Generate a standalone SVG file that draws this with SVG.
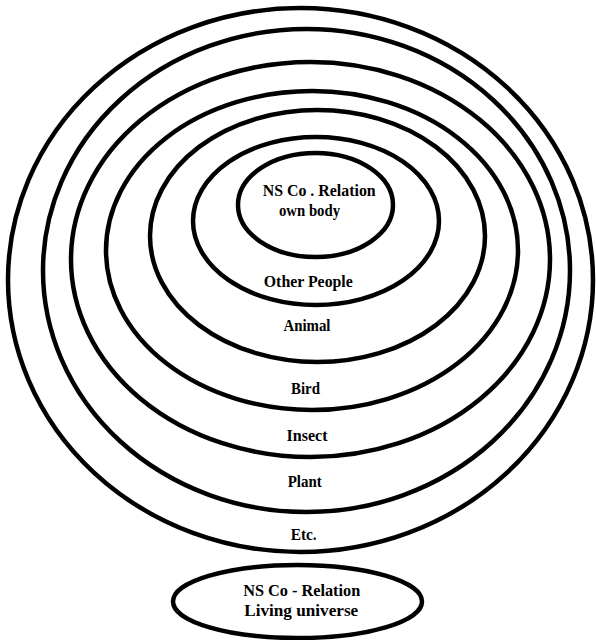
<svg xmlns="http://www.w3.org/2000/svg" width="596" height="640" viewBox="0 0 596 640">
<style>
.ring{fill:none;stroke:#000;stroke-width:4.5}
.lbl{font-family:"Liberation Serif","Times New Roman",serif;font-weight:bold;font-size:17px;fill:#000;text-anchor:middle}
</style>
<rect width="596" height="640" fill="#fff"/>
<g id="ring-etc"><ellipse class="ring" cx="300.5" cy="280" rx="292.5" ry="272"/><text class="lbl" x="303.7" y="540" textLength="26" lengthAdjust="spacingAndGlyphs">Etc.</text></g>
<g id="ring-plant"><ellipse class="ring" cx="306.5" cy="270.5" rx="263.5" ry="241.5"/><text class="lbl" x="304.7" y="487" textLength="34" lengthAdjust="spacingAndGlyphs">Plant</text></g>
<g id="ring-insect"><ellipse class="ring" cx="310.5" cy="259.5" rx="239.5" ry="197.5"/><text class="lbl" x="307" y="441" textLength="41" lengthAdjust="spacingAndGlyphs">Insect</text></g>
<g id="ring-bird"><ellipse class="ring" cx="312" cy="250.5" rx="206" ry="159.5"/><text class="lbl" x="305.5" y="394" textLength="29" lengthAdjust="spacingAndGlyphs">Bird</text></g>
<g id="ring-animal"><ellipse class="ring" cx="317.5" cy="236" rx="167.5" ry="126"/><text class="lbl" x="307" y="331" textLength="47" lengthAdjust="spacingAndGlyphs">Animal</text></g>
<g id="ring-other-people"><ellipse class="ring" cx="316" cy="221" rx="123" ry="84"/><text class="lbl" x="308.3" y="287" textLength="89" lengthAdjust="spacingAndGlyphs">Other People</text></g>
<g id="ring-own-body"><ellipse class="ring" cx="315.5" cy="205" rx="77.5" ry="52"/><text class="lbl" x="319.2" y="196" textLength="113" lengthAdjust="spacingAndGlyphs">NS Co . Relation</text><text class="lbl" x="309.5" y="216" textLength="61" lengthAdjust="spacingAndGlyphs">own body</text></g>
<g id="living-universe"><ellipse class="ring" cx="297.5" cy="601.5" rx="124.5" ry="36.5"/><text class="lbl" x="301.7" y="596" textLength="117" lengthAdjust="spacingAndGlyphs">NS Co - Relation</text><text class="lbl" x="301.2" y="616" textLength="114" lengthAdjust="spacingAndGlyphs">Living universe</text></g>
<g id="connectors"/>
</svg>
